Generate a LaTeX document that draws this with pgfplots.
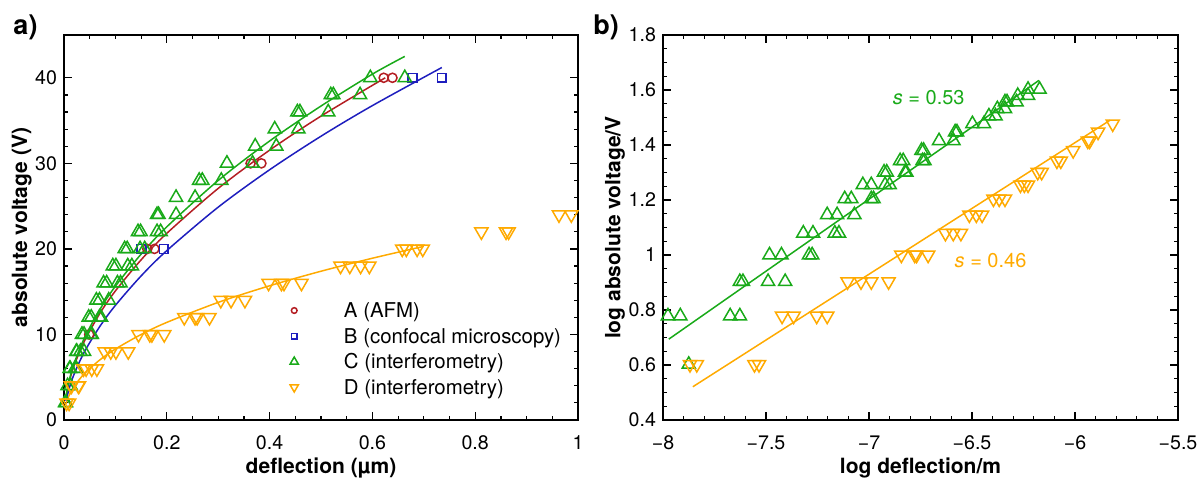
\documentclass[border=0pt]{standalone}
\usepackage{fontspec}
\setmainfont{TeX Gyre Heros}
\usepackage{pgfplots}
\pgfplotsset{compat=1.18}
\definecolor{cA}{RGB}{180,30,35}
\definecolor{cB}{RGB}{30,30,190}
\definecolor{cC}{RGB}{25,170,25}
\definecolor{cD}{RGB}{255,170,0}
\pgfplotsset{
  common/.style={
    scale only axis,
    axis line style={line width=0.7pt},
    every tick/.style={black, line width=0.6pt},
    major tick length=4pt, minor tick length=2.2pt,
    tick align=inside,
    ticklabel style={font=\fontsize{9.8}{11}\selectfont},
    xticklabel style={yshift=-4.3pt},
    label style={font=\fontsize{10.5}{12}\selectfont\bfseries},
    xlabel style={at={(axis description cs:0.5,-0.1247)}, anchor=center},
  },
  mk/.style={only marks, line width=0.75pt},
}
\begin{document}
\begin{tikzpicture}
\useasboundingbox (0,0) rectangle (599pt,239.5pt);
\node[font=\fontsize{13.5}{15}\selectfont\bfseries] at (12.75pt,226pt) {a)};
\node[font=\fontsize{13.5}{15}\selectfont\bfseries] at (303pt,226pt) {b)};
\begin{axis}[common,
  at={(32pt,29.5pt)}, anchor=south west,
  width=257pt, height=192.5pt,
  xmin=0, xmax=1, ymin=0, ymax=45,
  xtick={0,0.2,0.4,0.6,0.8,1}, xticklabels={0,0.2,0.4,0.6,0.8,1},
  ytick={0,10,20,30,40}, yticklabels={0,10,20,30,40},
  minor x tick num=3, minor y tick num=4,
  xlabel={deflection (µm)}, ylabel={absolute voltage (V)},
  ylabel style={at={(axis description cs:-0.082,0.5)}, anchor=center},
  legend style={at={(axis description cs:0.434,0.3135)}, anchor=north west,
    draw=none, fill=none, inner sep=0pt, row sep=0pt,
    font=\fontsize{10.2}{12}\selectfont,
    nodes={text height=7.6pt, text depth=2.4pt, inner ysep=1.4pt, inner xsep=0pt}},
  legend cell align=left,
  legend image code/.code={\draw[#1,/tikz/every mark/.append style={scale=0.62}] plot coordinates {(0pt,1pt)}; \path (-3pt,0pt) (24.5pt,0pt);},
]
\addplot[cA, line width=0.75pt, smooth, forget plot] coordinates {
(0.004,2.7)(0.01,4.432)(0.02,6.410)(0.04,9.268)(0.07,12.48)(0.1,15.09)(0.15,18.72)(0.2,21.82)(0.3,27.07)(0.4,31.54)(0.5,35.52)(0.625,40.0)};
\addplot[cB, line width=0.75pt, smooth, forget plot] coordinates {
(0.004,2.2)(0.01,3.666)(0.02,5.415)(0.04,8.000)(0.07,10.96)(0.1,13.40)(0.15,16.84)(0.2,19.80)(0.3,24.88)(0.4,29.25)(0.5,33.17)(0.6,36.75)(0.735,41.2)};
\addplot[cC, line width=0.75pt, smooth, forget plot] coordinates {
(0.004,2.85)(0.01,4.616)(0.02,6.666)(0.04,9.626)(0.07,12.95)(0.1,15.64)(0.15,19.39)(0.2,22.58)(0.3,28.00)(0.4,32.61)(0.5,36.70)(0.6,40.43)(0.663,42.5)};
\addplot[cD, line width=0.75pt, smooth, forget plot] coordinates {
(0.004,1.9)(0.01,2.876)(0.02,3.956)(0.04,5.441)(0.07,7.039)(0.1,8.295)(0.15,9.994)(0.2,11.41)(0.3,13.75)(0.4,15.69)(0.5,17.39)(0.6,18.91)(0.7,20.30)};
\addplot[mk, cA, mark=o, mark size=2.3pt] coordinates {
(0.049,10)(0.162,20)(0.176,20)(0.363,30)(0.384,30)(0.622,40)(0.639,40)};
\addlegendentry{A (AFM)}
\addplot[mk, cB, mark=square, mark size=2.2pt] coordinates {
(0.151,20)(0.194,20)(0.678,40)(0.735,40)};
\addlegendentry{B (confocal microscopy)}
\addplot[mk, cC, mark=triangle, mark size=3.8pt] coordinates {
(0.002,2)(0.004,2)(0.007,4)(0.013,4)
(0.011,6)(0.012,6)(0.021,6)(0.024,6)
(0.024,8)(0.025,8)(0.032,8)(0.039,8)
(0.035,10)(0.039,10)(0.052,10)(0.054,10)
(0.048,12)(0.053,12)(0.069,12)(0.072,12)
(0.063,14)(0.069,14)(0.087,14)
(0.077,16)(0.083,16)(0.104,16)(0.11,16)
(0.095,18)(0.101,18)(0.124,18)(0.132,18)
(0.118,20)(0.123,20)(0.148,20)(0.157,20)
(0.144,22)(0.149,22)(0.181,22)(0.188,22)
(0.181,24)(0.184,24)(0.218,24)
(0.218,26)(0.255,26)
(0.263,28)(0.269,28)(0.306,28)
(0.317,30)(0.367,30)
(0.372,32)(0.413,32)
(0.41,34)(0.456,34)
(0.454,36)(0.459,36)(0.514,36)
(0.519,38)(0.524,38)(0.576,38)
(0.596,40)(0.663,40)};
\addlegendentry{C (interferometry)}
\addplot[mk, cD, mark=triangle, mark options={rotate=180}, mark size=3.8pt] coordinates {
(0.005,2)(0.01,2)
(0.0135,4)(0.0146,4)(0.028,4)(0.029,4)
(0.038,6)(0.043,6)(0.054,6)(0.064,6)
(0.079,8)(0.091,8)(0.101,8)(0.125,8)
(0.145,10)(0.167,10)(0.171,10)(0.195,10)
(0.234,12)(0.255,12)(0.259,12)(0.283,12)
(0.305,14)(0.325,14)(0.352,14)
(0.398,16)(0.423,16)(0.428,16)(0.462,16)
(0.538,18)(0.556,18)(0.577,18)(0.594,18)
(0.658,20)(0.666,20)(0.687,20)(0.698,20)
(0.812,22)(0.86,22)(0.865,22)
(0.963,24)(0.987,24)};
\addlegendentry{D (interferometry)}
\end{axis}
\begin{axis}[common,
  at={(331.5pt,29.5pt)}, anchor=south west,
  width=257.5pt, height=192.5pt,
  xmin=-8, xmax=-5.5, ymin=0.4, ymax=1.8,
  xtick={-8,-7.5,-7,-6.5,-6,-5.5}, xticklabels={−8,−7.5,−7,−6.5,−6,−5.5},
  ytick={0.4,0.6,0.8,1,1.2,1.4,1.6,1.8}, yticklabels={0.4,0.6,0.8,1,1.2,1.4,1.6,1.8},
  minor x tick num=4, minor y tick num=3,
  xlabel={log deflection/m}, ylabel={log absolute voltage/V},
  ylabel style={at={(axis description cs:-0.0932,0.5)}, anchor=center},
]
\addplot[cC, line width=0.75pt] coordinates {(-7.972,0.694)(-6.175,1.635)};
\addplot[cD, line width=0.75pt] coordinates {(-7.855,0.521)(-5.83,1.49)};
\addplot[mk, cC, mark=triangle, mark size=3.8pt] coordinates {
(-7.976,0.7782)(-7.916,0.7782)(-7.674,0.7782)(-7.627,0.7782)
(-7.875,0.6021)
(-7.627,0.9031)(-7.612,0.9031)(-7.49,0.9031)(-7.407,0.9031)
(-7.483,1)(-7.425,1)(-7.291,1)(-7.276,1)
(-7.319,1.0792)(-7.272,1.0792)(-7.166,1.0792)(-7.146,1.0792)
(-7.203,1.1461)(-7.155,1.1461)(-7.071,1.1461)
(-7.118,1.2041)(-7.086,1.2041)(-6.989,1.2041)(-6.978,1.2041)
(-7.03,1.2553)(-6.989,1.2553)(-6.922,1.2553)(-6.9,1.2553)
(-6.927,1.301)(-6.914,1.301)(-6.825,1.301)(-6.819,1.301)
(-6.849,1.3424)(-6.834,1.3424)(-6.74,1.3424)(-6.731,1.3424)
(-6.745,1.3802)(-6.735,1.3802)
(-6.66,1.415)(-6.59,1.415)
(-6.582,1.4472)(-6.573,1.4472)
(-6.498,1.4771)(-6.442,1.4771)
(-6.418,1.5051)(-6.386,1.5051)
(-6.377,1.5315)(-6.34,1.5315)
(-6.34,1.5563)(-6.33,1.5563)(-6.284,1.5563)
(-6.278,1.5798)(-6.228,1.5798)
(-6.228,1.6021)(-6.172,1.6021)};
\addplot[mk, cD, mark=triangle, mark options={rotate=180}, mark size=3.8pt] coordinates {
(-7.869,0.6021)(-7.836,0.6021)(-7.556,0.6021)(-7.534,0.6021)
(-7.422,0.7782)(-7.366,0.7782)(-7.254,0.7782)(-7.203,0.7782)
(-7.104,0.9031)(-7.039,0.9031)(-6.989,0.9031)(-6.905,0.9031)
(-6.843,1)(-6.778,1)(-6.769,1)(-6.713,1)
(-6.629,1.0792)(-6.591,1.0792)(-6.554,1.0792)
(-6.513,1.1461)(-6.479,1.1461)(-6.451,1.1461)
(-6.396,1.2041)(-6.368,1.2041)(-6.34,1.2041)
(-6.265,1.2553)(-6.246,1.2553)(-6.228,1.2553)
(-6.181,1.301)(-6.162,1.301)
(-6.088,1.3424)(-6.069,1.3424)
(-6.009,1.3802)
(-5.938,1.415)(-5.929,1.415)
(-5.888,1.4472)
(-5.817,1.4771)};
\node[cC, font=\fontsize{10}{12}\selectfont] at (axis cs:-6.71,1.571) {\textit{s} = 0.53};
\node[cD, font=\fontsize{10}{12}\selectfont] at (axis cs:-6.41,0.981) {\textit{s} = 0.46};
\end{axis}
\end{tikzpicture}
\end{document}
